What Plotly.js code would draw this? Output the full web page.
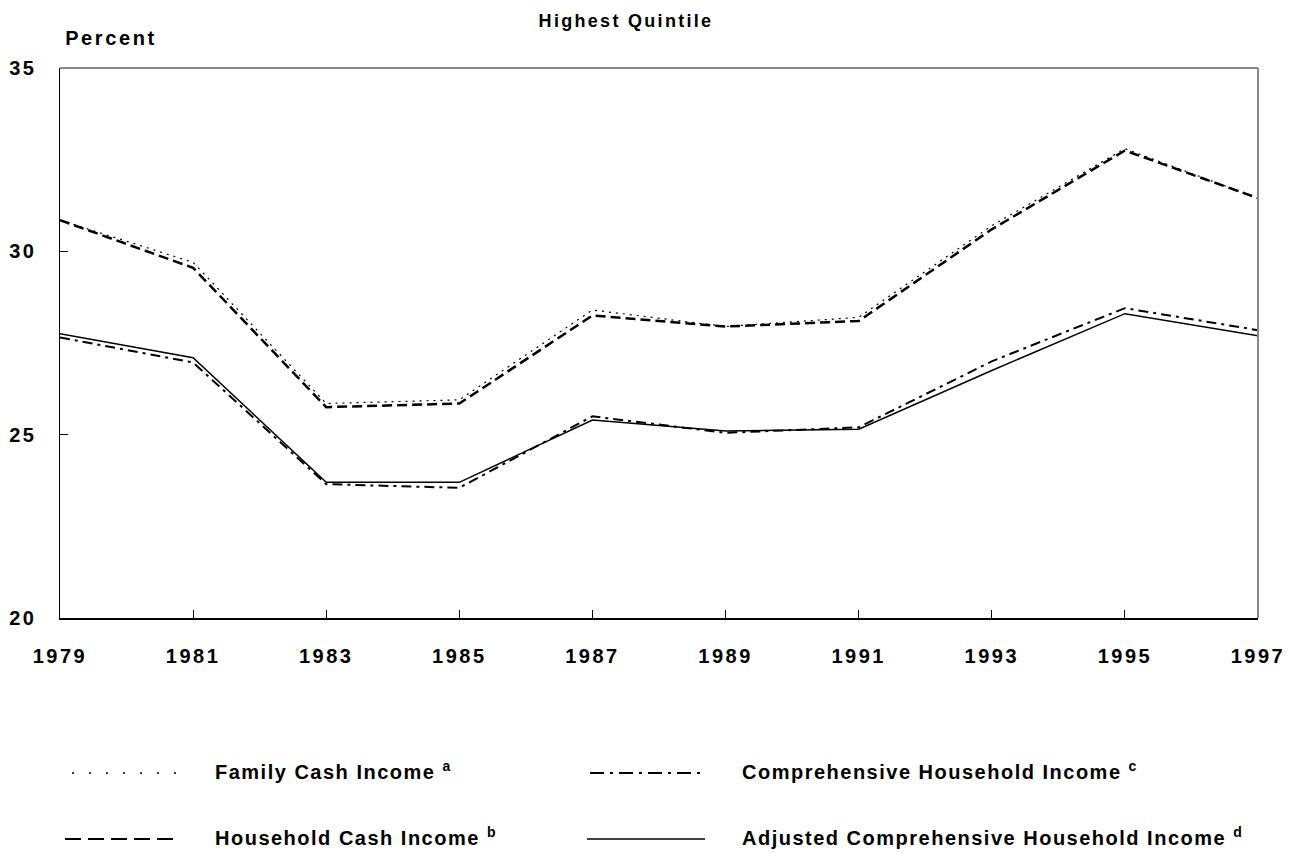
<!DOCTYPE html>
<html>
<head>
<meta charset="utf-8">
<script src="https://cdn.plot.ly/plotly-3.0.1.min.js"></script>
<style>
html,body{margin:0;padding:0;background:#fff;}
#chart{width:1294px;height:853px;}
svg text{letter-spacing:1.5px;}
.xtick text,.ytick text{letter-spacing:2.5px;}
g.annotation[data-index="0"] text{letter-spacing:2.3px;}
g.annotation[data-index="1"] text{letter-spacing:2.6px;}
</style>
</head>
<body>
<div id="chart"></div>
<script>
// ---- data ----
const years = [1979, 1981, 1983, 1985, 1987, 1989, 1991, 1993, 1995, 1997];
const familyCash = [30.85, 29.7, 25.85, 25.95, 28.4, 27.95, 28.2, 30.7, 32.8, 31.45];
const householdCash = [30.85, 29.55, 25.75, 25.85, 28.25, 27.95, 28.1, 30.6, 32.75, 31.45];
const comprehensive = [27.65, 26.97, 23.65, 23.55, 25.5, 25.05, 25.2, 27.0, 28.45, 27.85];
const adjusted = [27.75, 27.1, 23.7, 23.7, 25.4, 25.1, 25.15, 26.75, 28.3, 27.7];
const yTicks = [20, 25, 30, 35];
const xTicks = [1979, 1981, 1983, 1985, 1987, 1989, 1991, 1993, 1995, 1997];
const seriesNames = ["Family Cash Income", "Household Cash Income", "Comprehensive Household Income", "Adjusted Comprehensive Household Income"];
const footnotes = ["a", "b", "c", "d"];

// ---- layout geometry ----
const W = 1294, H = 853;
const L = 60, R = 1258, T = 68, B = 618;
const px2x = p => (p - L) / (R - L);
const py2y = p => (B - p) / (B - T);
const FONT = "Liberation Sans, Arial, sans-serif";

const styles = [
  {width: 1.2, dash: "2px,5px"},
  {width: 2.5, dash: "10px,5px"},
  {width: 2, dash: "10px,5px,3px,5px"},
  {width: 1.5, dash: "solid"}
];
const legendStyles = [
  {width: 1.5, dash: "2px,15px"},
  {width: 2, dash: "16px,7px"},
  {width: 2, dash: "14px,6px,3px,6px"},
  {width: 1.5, dash: "solid"}
];
const seriesData = [familyCash, householdCash, comprehensive, adjusted];

const traces = seriesData.map((ys, i) => ({
  x: years, y: ys, type: "scatter", mode: "lines", name: seriesNames[i],
  line: {color: "#000", width: styles[i].width, dash: styles[i].dash},
  showlegend: false, hoverinfo: "x+y"
}));

// legend positions (pixel)
const legendItems = [
  {x0: 72, x1: 182, y: 773, tx: 213},   // Family
  {x0: 65, x1: 180, y: 839, tx: 213},   // Household
  {x0: 590, x1: 705, y: 773, tx: 740},  // Comprehensive
  {x0: 587, x1: 705, y: 839, tx: 740}   // Adjusted
];

const shapes = [
  {type: "line", xref: "paper", yref: "paper", x0: 0, x1: 1, y0: 1, y1: 1, line: {color: "#888", width: 2}},
  {type: "line", xref: "paper", yref: "paper", x0: 1, x1: 1, y0: 0, y1: 1, line: {color: "#888", width: 2}}
];
const annotations = [
  {text: "<b>Highest Quintile</b>", xref: "paper", yref: "paper", x: px2x(626), y: py2y(21),
   xanchor: "center", yanchor: "middle", showarrow: false, font: {family: FONT, size: 18, color: "#000"}},
  {text: "<b>Percent</b>", xref: "paper", yref: "paper", x: px2x(111), y: py2y(38),
   xanchor: "center", yanchor: "middle", showarrow: false, font: {family: FONT, size: 20, color: "#000"}}
];
legendItems.forEach((it, i) => {
  shapes.push({type: "line", xref: "paper", yref: "paper",
    x0: px2x(it.x0), x1: px2x(it.x1), y0: py2y(it.y), y1: py2y(it.y),
    line: {color: "#000", width: legendStyles[i].width, dash: legendStyles[i].dash}});
  annotations.push({text: "<b>" + seriesNames[i] + " <sup>" + footnotes[i] + "</sup></b>",
    xref: "paper", yref: "paper", x: px2x(it.tx), y: py2y(it.y - 3), xanchor: "left", yanchor: "middle",
    showarrow: false, font: {family: FONT, size: 20, color: "#000"}});
});

const layout = {
  width: W, height: H,
  margin: {l: L, r: W - R, t: T, b: H - B, pad: 0},
  paper_bgcolor: "#fff", plot_bgcolor: "#fff",
  font: {family: FONT, size: 20, color: "#000"},
  xaxis: {
    range: [1979, 1997], tickvals: xTicks, ticktext: xTicks.map(String),
    showgrid: false, zeroline: false, showline: true, linecolor: "#000", linewidth: 1.5,
    ticks: "inside", ticklen: 8, tickcolor: "#000", tickwidth: 1,
    ticklabelstandoff: 19, tickfont: {family: FONT, size: 20, color: "#000", weight: "bold"}
  },
  yaxis: {
    range: [20, 35], tickvals: yTicks, ticktext: yTicks.map(String),
    showgrid: false, zeroline: false, showline: true, linecolor: "#000", linewidth: 1.5,
    ticks: "inside", ticklen: 8, tickcolor: "#000", tickwidth: 1,
    ticklabelstandoff: 18, tickfont: {family: FONT, size: 20, color: "#000", weight: "bold"}
  },
  shapes: shapes,
  annotations: annotations,
  showlegend: false
};

Plotly.newPlot("chart", traces, layout, {displayModeBar: false, staticPlot: true});
</script>
</body>
</html>
